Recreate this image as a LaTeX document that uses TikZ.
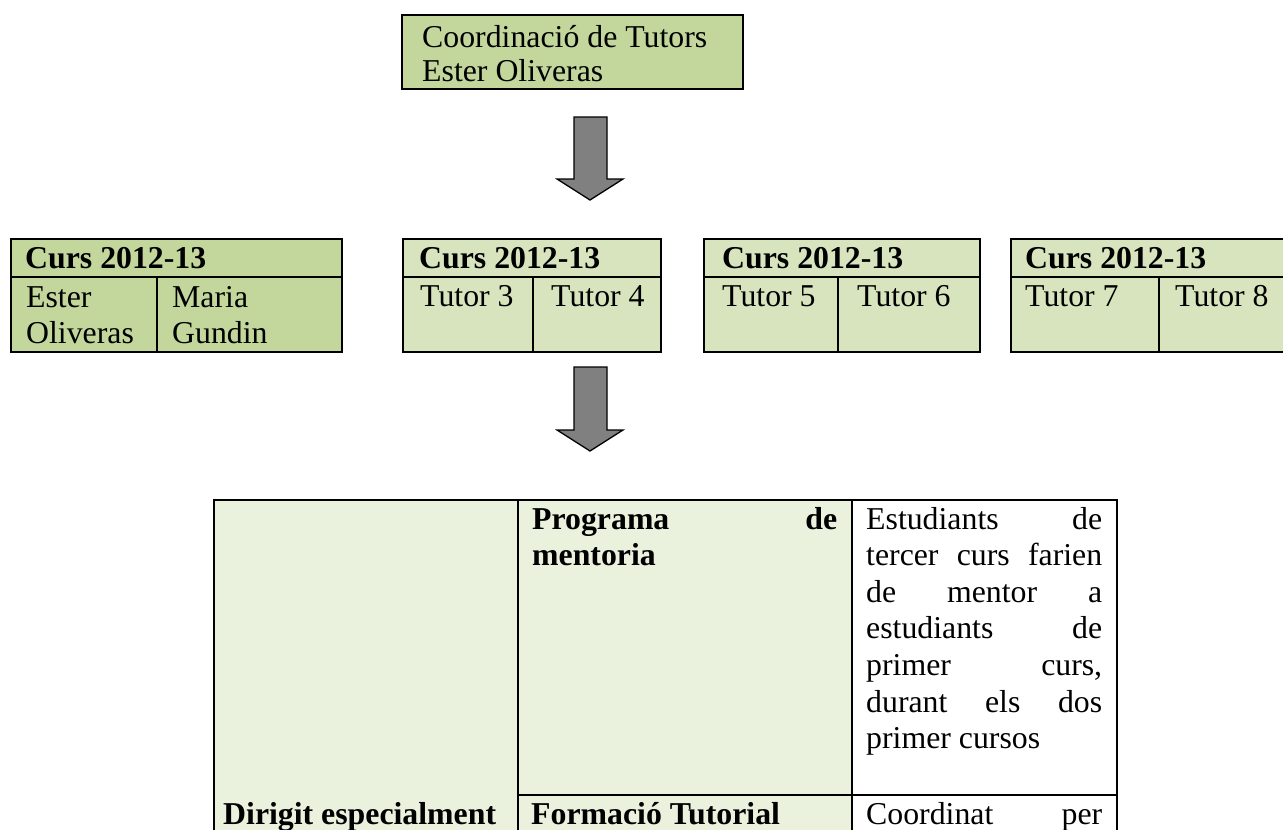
\documentclass[tikz,border=0pt]{standalone}
\usepackage{fontspec}
\setmainfont{Liberation Serif}
\definecolor{oliveA}{HTML}{C3D69B}
\definecolor{oliveB}{HTML}{D7E4BD}
\definecolor{oliveC}{HTML}{EAF1DD}
\definecolor{arrowgray}{HTML}{808080}
\begin{document}
\begin{tikzpicture}[x=1pt,y=-1pt,
  frame/.style={draw=black,line width=2.6pt},
  rule/.style={draw=black,line width=2.6pt},
  txt/.style={anchor=base west,inner sep=0pt,font=\fontsize{31.8}{36.6}\selectfont},
  btxt/.style={anchor=base west,inner sep=0pt,font=\fontsize{31.8}{36.6}\selectfont\bfseries},
  blockarrow/.style={draw=black,fill=arrowgray,line width=1.3pt,line join=miter}]
\useasboundingbox (0,0) rectangle (1283,830);

% top box
\filldraw[frame,fill=oliveA] (402,15) rectangle (743,89);
\node[txt] (coord) at (422,47) {Coordinació de Tutors};
\node[txt] (coordname) at (422,81) {Ester Oliveras};

% arrow 1
\draw[blockarrow] (574,117) -- (607,117) -- (607,179) -- (623,179) -- (590,200) -- (557,179) -- (574,179) -- cycle;

% box 1
\filldraw[frame,fill=oliveA] (11,239) rectangle (342,352);
\draw[rule] (11,277) -- (342,277) (157,277) -- (157,352);
\node[btxt] (c1) at (25,268) {Curs 2012-13};
\node[txt] (t1a) at (26,307) {Ester};
\node[txt] (t1b) at (26,343) {Oliveras};
\node[txt] (t2a) at (172,307) {Maria};
\node[txt] (t2b) at (172,343) {Gundin};

% box 2
\filldraw[frame,fill=oliveB] (403,239) rectangle (661,352);
\draw[rule] (403,277) -- (661,277) (533,277) -- (533,352);
\node[btxt] (c2) at (419,268) {Curs 2012-13};
\node[txt] (t3) at (420,306) {Tutor 3};
\node[txt] (t4) at (551,306) {Tutor 4};

% box 3
\filldraw[frame,fill=oliveB] (704,239) rectangle (980,352);
\draw[rule] (704,277) -- (980,277) (838,277) -- (838,352);
\node[btxt] (c3) at (722,268) {Curs 2012-13};
\node[txt] (t5) at (722,306) {Tutor 5};
\node[txt] (t6) at (857,306) {Tutor 6};

% box 4
\filldraw[frame,fill=oliveB] (1011,239) rectangle (1300,352);
\draw[rule] (1011,277) -- (1300,277) (1159,277) -- (1159,352);
\node[btxt] (c4) at (1025,268) {Curs 2012-13};
\node[txt] (t7) at (1025,306) {Tutor 7};
\node[txt] (t8) at (1175,306) {Tutor 8};

% arrow 2
\draw[blockarrow] (574,367) -- (607,367) -- (607,430) -- (623,430) -- (590,451) -- (557,430) -- (574,430) -- cycle;

% table
\fill[oliveC] (214,500) rectangle (852,845);
\fill[white] (852,500) rectangle (1117,845);
\draw[rule] (214,845) -- (214,500) -- (1117,500) -- (1117,845);
\draw[rule] (518,500) -- (518,845) (852,500) -- (852,845);
\draw[rule] (518,795) -- (1117,795);

\node[btxt] (prog1) at (532,529) {\makebox[305pt][s]{Programa de}};
\node[btxt] (prog2) at (532,565.6) {mentoria};

\node[txt] (e1) at (866,529) {\makebox[236pt][s]{Estudiants de}};
\node[txt] (e2) at (866,565.6) {\makebox[236pt][s]{tercer curs farien}};
\node[txt] (e3) at (866,602.2) {\makebox[236pt][s]{de mentor a}};
\node[txt] (e4) at (866,638.8) {\makebox[236pt][s]{estudiants de}};
\node[txt] (e5) at (866,675.4) {\makebox[236pt][s]{primer curs,}};
\node[txt] (e6) at (866,712) {\makebox[236pt][s]{durant els dos}};
\node[txt] (e7) at (866,748.6) {primer cursos};

\node[btxt] (dir) at (223,824) {Dirigit especialment};
\node[btxt] (form) at (531,824) {Formació Tutorial};
\node[txt] (coordper) at (866,824) {\makebox[236pt][s]{Coordinat per}};
\end{tikzpicture}
\end{document}
